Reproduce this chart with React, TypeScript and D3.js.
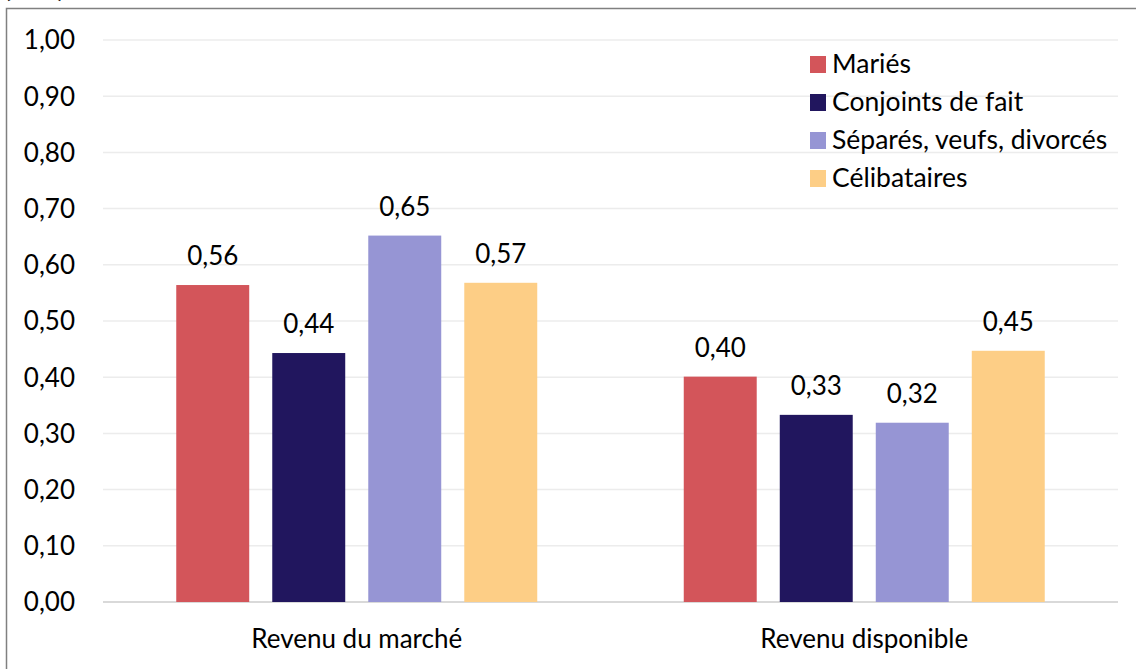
import React from "react";
import * as d3 from "d3";

const categories = ["Revenu du marché", "Revenu disponible"];
const series = ["Mariés", "Conjoints de fait", "Séparés, veufs, divorcés", "Célibataires"];
const colors = ["#D3555A", "#21165E", "#9695D4", "#FDCE86"];
const values = [
  [0.564, 0.443, 0.652, 0.568],
  [0.401, 0.333, 0.319, 0.447],
];
const yTicks = [0, 0.1, 0.2, 0.3, 0.4, 0.5, 0.6, 0.7, 0.8, 0.9, 1.0];

const W = 1136;
const H = 669;
const FONT = "Lato, 'Open Sans', sans-serif";
const FS = 26;

export default function App() {
  const left = 103, right = 1118, top = 40, bottom = 602;
  const fmt = (v: number) => v.toFixed(2).replace(".", ",");

  const yScale = d3.scaleLinear().domain([0, 1]).range([bottom, top]);
  const x0 = d3.scaleBand().domain(categories).range([left, right]).padding(0);
  const x1 = d3
    .scaleBand()
    .domain(series)
    .range([0, x0.bandwidth()])
    .paddingInner(0.24)
    .paddingOuter(0.763);

  return (
    <div style={{ position: "absolute", left: 0, top: 0 }}>
      <svg width={W} height={H} style={{ display: "block", background: "#fff" }}>
        {/* title, mostly outside the picture */}
        <text x={4} y={-3} fontFamily={FONT} fontSize={FS} fontWeight="bold" fill="#000">
          (Gini)
        </text>
        {/* frame */}
        <path d={`M6.5,${H + 2} V8.5 H${W + 2}`} fill="none" stroke="#808080" strokeWidth={1.5} />

        {/* gridlines */}
        {yTicks.map((t) => (
          <line
            key={t}
            x1={left}
            x2={right}
            y1={yScale(t)}
            y2={yScale(t)}
            stroke={t === 0 ? "#d9d9d9" : "#ececec"}
            strokeWidth={t === 0 ? 2 : 1.5}
          />
        ))}

        {/* y tick labels */}
        {yTicks.map((t) => (
          <text
            key={"l" + t}
            x={75}
            y={yScale(t)}
            dy="0.36em"
            textAnchor="end"
            fontFamily={FONT}
            fontSize={FS}
            fill="#000"
          >
            {fmt(t)}
          </text>
        ))}

        {/* bars */}
        {categories.map((c, ci) => (
          <g key={c} transform={`translate(${x0(c)},0)`}>
            {series.map((s, si) => {
              const v = values[ci][si];
              const x = x1(s) as number;
              return (
                <g key={s}>
                  <rect
                    x={x}
                    y={yScale(v)}
                    width={x1.bandwidth()}
                    height={yScale(0) - yScale(v)}
                    fill={colors[si]}
                  />
                  <text
                    x={x + x1.bandwidth() / 2}
                    y={yScale(v) - 20}
                    textAnchor="middle"
                    fontFamily={FONT}
                    fontSize={FS}
                    fill="#000"
                  >
                    {fmt(v)}
                  </text>
                </g>
              );
            })}
          </g>
        ))}

        {/* x labels */}
        {categories.map((c) => (
          <text
            key={"x" + c}
            x={(x0(c) as number) + x0.bandwidth() / 2}
            y={648}
            textAnchor="middle"
            fontFamily={FONT}
            fontSize={FS}
            fill="#000"
          >
            {c}
          </text>
        ))}

        {/* legend */}
        {series.map((s, i) => (
          <g key={"lg" + s} transform={`translate(810,${73 + i * 38})`}>
            <rect x={0} y={-17} width={16} height={17} fill={colors[i]} />
            <text x={22} y={0} fontFamily={FONT} fontSize={26.5} fill="#000">
              {s}
            </text>
          </g>
        ))}
      </svg>
    </div>
  );
}
